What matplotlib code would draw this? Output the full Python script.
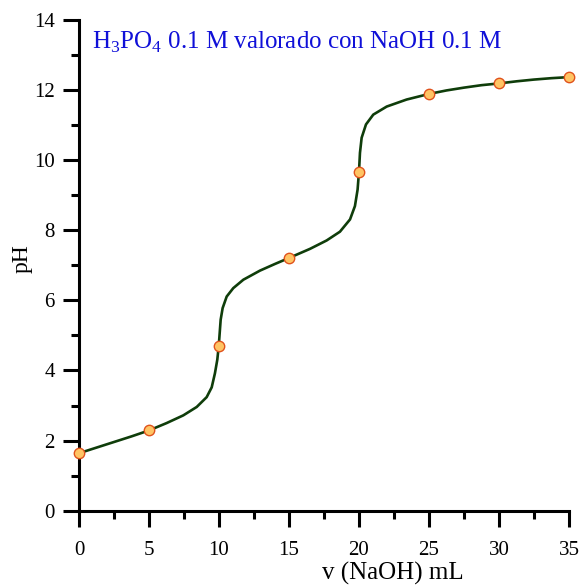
import numpy as np
import matplotlib
matplotlib.use("Agg")
import matplotlib.pyplot as plt
from matplotlib.ticker import MultipleLocator

plt.rcParams["font.family"] = ["Liberation Serif", "DejaVu Serif"]
plt.rcParams["mathtext.fontset"] = "custom"
plt.rcParams["mathtext.rm"] = "Liberation Serif"

# pH medido tras cada adición de 5 mL
v_puntos = [0, 5, 10, 15, 20, 25, 30, 35]
ph_puntos = [1.64, 2.29, 4.70, 7.21, 9.67, 11.89, 12.19, 12.37]

# curva de valoración (lectura punto a punto)
v_curva = [0, 1.25, 2.5, 3.75, 5.0, 6.26, 7.45, 8.41, 9.12, 9.48, 9.71, 9.88,
           9.98, 10.05, 10.12, 10.26, 10.55, 11.02, 11.74, 12.93, 14.0, 15.0,
           16.5, 17.69, 18.64, 19.36, 19.71, 19.9, 20.0, 20.07, 20.19, 20.5,
           21.02, 21.98, 23.4, 25.0, 26.25, 27.5, 28.75, 30.0, 31.25, 32.5,
           33.75, 35.0]
ph_curva = [1.64, 1.80, 1.96, 2.12, 2.29, 2.50, 2.72, 2.96, 3.24, 3.52, 3.92, 4.31,
            4.69, 5.07, 5.45, 5.78, 6.11, 6.35, 6.59, 6.85, 7.04, 7.21,
            7.47, 7.71, 7.96, 8.31, 8.69, 9.16, 9.67, 10.21, 10.64, 11.02,
            11.30, 11.53, 11.73, 11.89, 11.99, 12.07, 12.14, 12.19, 12.25, 12.30,
            12.34, 12.37]

fig = plt.figure(figsize=(5.8, 5.86), dpi=100)
ax = fig.add_axes([0.1362, 0.1285, 0.8448, 0.8374])

ax.plot(v_curva, ph_curva, color="#0f3d0a", lw=1.9, zorder=2,
        solid_joinstyle="round", solid_capstyle="round")
ax.plot(v_puntos, ph_puntos, "o", ms=7.5, mfc="#ffc464", mec="#e0521c", mew=1.0,
        zorder=3, clip_on=False)

ax.set_xlim(0, 35)
ax.set_ylim(0, 14)
ax.xaxis.set_major_locator(MultipleLocator(5))
ax.xaxis.set_minor_locator(MultipleLocator(2.5))
ax.yaxis.set_major_locator(MultipleLocator(2))
ax.yaxis.set_minor_locator(MultipleLocator(1))

for lado in ["top", "right"]:
    ax.spines[lado].set_visible(False)
for lado in ["left", "bottom"]:
    ax.spines[lado].set_linewidth(2.2)

ax.tick_params(which="major", length=11.5, width=2.2, labelsize=15, colors="black")
ax.tick_params(which="minor", length=6, width=2.2)
ax.tick_params(axis="x", which="major", pad=10)
ax.tick_params(axis="y", which="major", pad=6)

ax.set_xlabel("v (NaOH) mL", fontsize=18)
ax.xaxis.set_label_coords(0.641, -0.104)
ax.set_ylabel("pH", fontsize=17)
ax.yaxis.set_label_coords(-0.094, 0.513)

ax.text(0.027, 0.955, r"H$_\mathrm{3}$PO$_\mathrm{4}$ 0.1 M valorado con NaOH 0.1 M",
        transform=ax.transAxes, color="#1010d8", fontsize=18, ha="left", va="center")

fig.savefig("out.png", dpi=100)
